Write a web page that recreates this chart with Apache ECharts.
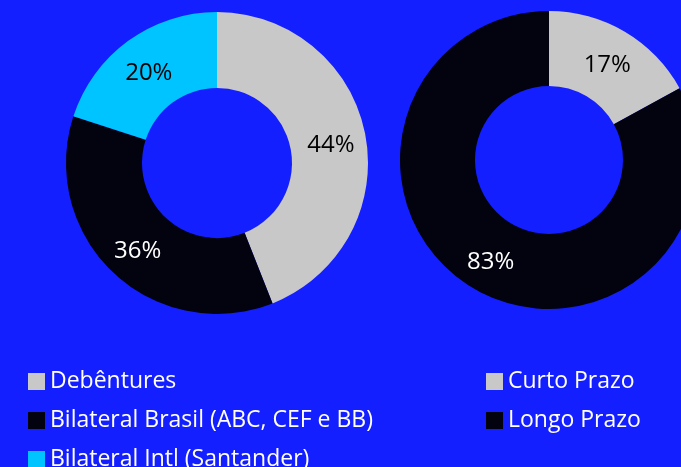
<!DOCTYPE html>
<html>
<head>
<meta charset="utf-8">
<script src="https://cdn.jsdelivr.net/npm/echarts@6/dist/echarts.min.js"></script>
<style>
  html, body { margin: 0; padding: 0; background: #141fff; }
  #chart { width: 681px; height: 467px; }
</style>
</head>
<body>
<div id="chart"></div>
<script>
// composição da dívida
const fundingNames = ['Debêntures', 'Bilateral Brasil (ABC, CEF e BB)', 'Bilateral Intl (Santander)']
const fundingValues = [44, 36, 20]
const fundingColors = ['#c8c8c8', '#03030f', '#00c4ff']
const fundingLabelColors = ['#000000', '#ffffff', '#000000']

// cronograma (prazo)
const termNames = ['Curto Prazo', 'Longo Prazo']
const termValues = [17, 83]
const termColors = ['#c8c8c8', '#03030f']
const termLabelColors = ['#000000', '#ffffff']

const FONT = 'Open Sans'

function buildData(names, values, colors, labelColors) {
  return names.map((n, i) => ({
    name: n,
    value: values[i],
    itemStyle: { color: colors[i] },
    label: { color: labelColors[i] },
  }))
}

const legendBase = {
  orient: 'vertical',
  icon: 'rect',
  itemWidth: 17,
  itemHeight: 17,
  itemGap: 14,
  height: 200,
  padding: 0,
  textStyle: { color: '#ffffff', fontSize: 23, fontFamily: FONT, lineHeight: 25 },
}

const myChart = echarts.init(document.getElementById('chart'))
myChart.setOption({
  backgroundColor: '#141fff',
  animation: false,
  legend: [
    Object.assign({}, legendBase, { left: 28, top: 369, data: fundingNames }),
    Object.assign({}, legendBase, { left: 486, top: 369, data: termNames }),
  ],
  series: [
    {
      type: 'pie',
      center: [217, 163],
      radius: [75, 151],
      startAngle: 90,
      label: { position: 'inside', fontSize: 24, fontFamily: FONT, formatter: '{c}%', offset: [0, 4] },
      labelLine: { show: false },
      emphasis: { disabled: true },
      data: buildData(fundingNames, fundingValues, fundingColors, fundingLabelColors),
    },
    {
      type: 'pie',
      center: [549, 160],
      radius: [74, 149],
      startAngle: 90,
      label: { position: 'inside', fontSize: 24, fontFamily: FONT, formatter: '{c}%', offset: [0, 4] },
      labelLine: { show: false },
      emphasis: { disabled: true },
      data: buildData(termNames, termValues, termColors, termLabelColors),
    },
  ],
})
</script>
</body>
</html>
